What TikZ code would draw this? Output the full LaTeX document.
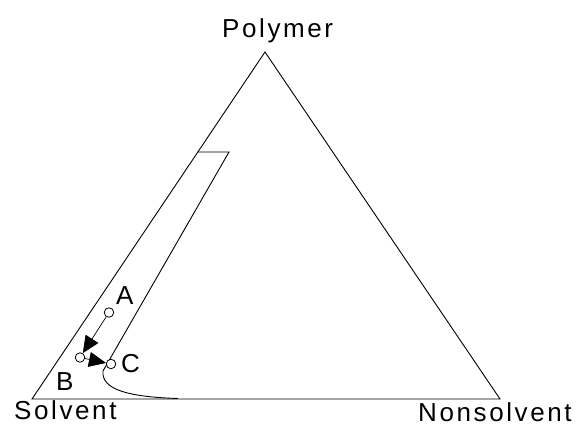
\documentclass[tikz,border=0pt]{standalone}
\usepackage{fontspec}
\setmainfont{Liberation Sans}
\newfontfamily\spaced{Liberation Sans}[LetterSpace=10]
\usetikzlibrary{arrows.meta}
\begin{document}
\begin{tikzpicture}[x=1pt,y=-1pt,
  edge/.style={line width=0.9pt,black},
  pt/.style={circle,draw,line width=0.8pt,fill=white,minimum size=9.5pt,inner sep=0pt},
  lbl/.style={font=\fontsize{26}{26}\selectfont,inner sep=0pt,anchor=base west},
  vlbl/.style={font=\fontsize{26}{26}\selectfont\spaced,inner sep=0pt,anchor=base west},
  flow/.style={line width=0.7pt,-{Triangle[length=17pt,width=15pt]}}]
\useasboundingbox (0,0) rectangle (578,427);
% vertices
\coordinate (P) at (265,52);
\coordinate (S) at (32,399);
\coordinate (N) at (500,399);
\draw[edge] (S) -- (P) -- (N) -- cycle;
% binodal
\coordinate (t1) at (197.5,152);
\coordinate (t2) at (229,152);
\coordinate (c0) at (103,371);
\coordinate (e0) at (178,398.5);
\draw[edge] (t1) -- (t2) -- (c0) .. controls (101,390) and (130,397) .. (e0);
% labels
\node[vlbl] (lP) at (222,38) {Polymer};
\node[vlbl] (lS) at (14,419) {Solvent};
\node[vlbl] (lN) at (418,421) {Nonsolvent};
% points
\node[pt] (A) at (109,312.5) {};
\node[pt] (B) at (80,357.5) {};
\node[pt] (C) at (111,364) {};
\node[lbl] (lA) at (116,305) {A};
\node[lbl] (lB) at (56,390) {B};
\node[lbl] (lC) at (121,372) {C};
\draw[flow] (A) -- (B);
\draw[flow] (B) -- (C);
\end{tikzpicture}
\end{document}
